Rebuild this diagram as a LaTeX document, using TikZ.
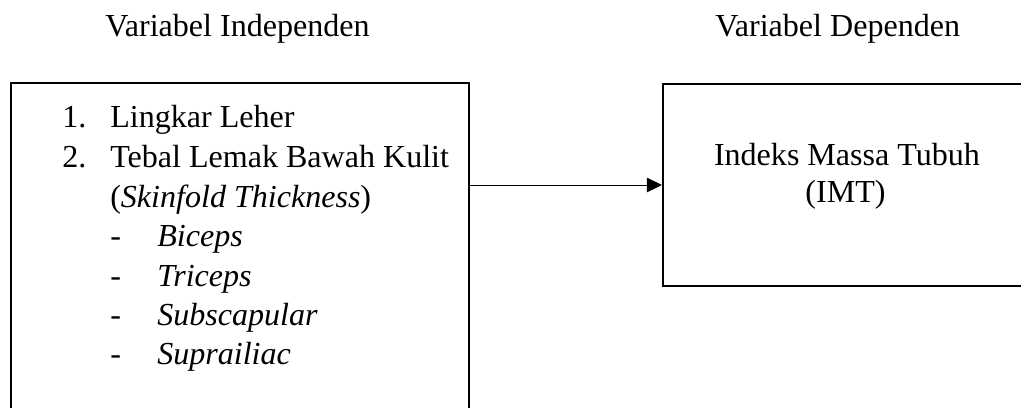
\documentclass[tikz,border=0pt]{standalone}
\usepackage{fontspec}
\setmainfont{Liberation Serif}
\usetikzlibrary{arrows.meta}
\begin{document}
\begin{tikzpicture}[x=0.025cm,y=-0.025cm,>={Triangle[length=0.375cm,width=0.36cm]},
  every node/.style={inner sep=0pt,font=\fontsize{22.8}{28}\selectfont},
  kotak/.style={draw,line width=1.4pt,rectangle}]
\clip (0,0) rectangle (1021,408);
% boxes
\node[kotak,minimum width=11.45cm,minimum height=8.425cm] (bebas) at (240,251.5) {};
\node[kotak,minimum width=9.425cm,minimum height=5.05cm] (terikat) at (851.5,185) {};
\draw[->,line width=0.7pt] (bebas.east |- terikat.west) -- (terikat.west);
% headings
\node[anchor=base west] (judul1) at (105,36) {Variabel Independen};
\node[anchor=base west] (judul2) at (715,36) {Variabel Dependen};
% left box
\node[anchor=base west] (no1) at (62,127) {1.};
\node[anchor=base west] (lingkar) at (110,127) {Lingkar Leher};
\node[anchor=base west] (no2) at (62,167) {2.};
\node[anchor=base west] (tebal) at (110,167) {Tebal Lemak Bawah Kulit};
\node[anchor=base west] (skin) at (110,207) {(\textit{Skinfold Thickness})};
\def\butir#1#2#3{
\node[anchor=base west] (s#1) at (110,#2) {-};
\node[anchor=base west] (#1) at (157,#2) {\textit{#3}};
}
\butir{biceps}{246}{Biceps}
\butir{triceps}{286}{Triceps}
\butir{subscap}{325}{Subscapular}
\butir{supra}{364}{Suprailiac}
% right box
\node[anchor=base] (imt1) at (847,165) {Indeks Massa Tubuh};
\node[anchor=base] (imt2) at (845.5,202) {(IMT)};
\end{tikzpicture}
\end{document}
